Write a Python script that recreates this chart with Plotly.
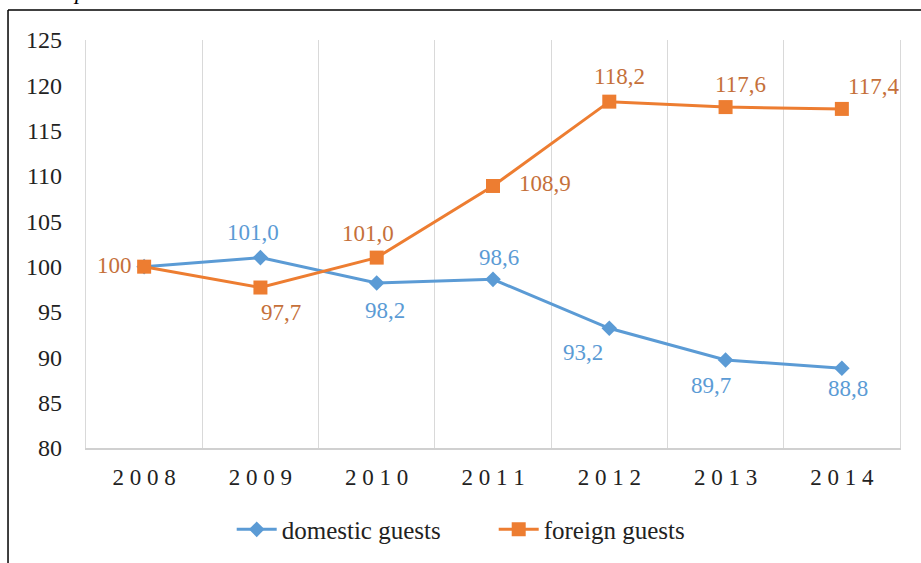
import plotly.graph_objects as go

years = [2008, 2009, 2010, 2011, 2012, 2013, 2014]
domestic = [100, 101.0, 98.2, 98.6, 93.2, 89.7, 88.8]
foreign = [100, 97.7, 101.0, 108.9, 118.2, 117.6, 117.4]
domestic_labels = [None, "101,0", "98,2", "98,6", "93,2", "89,7", "88,8"]
foreign_labels = ["100", "97,7", "101,0", "108,9", "118,2", "117,6", "117,4"]
y_ticks = [80, 85, 90, 95, 100, 105, 110, 115, 120, 125]

# label offsets (pixels) - styling only
dom_off = [(0, 0), (-7, -25), (8, 28), (6, -22), (-26, 24), (-15, 25), (6, 20)]
for_off = [(-30, -1), (21, 25), (-9, -24), (52, -2), (10, -25), (15, -23), (32, -22)]

BLUE = "#5B9BD5"
ORANGE = "#ED7D31"
FONT = "Liberation Serif"

xs = list(range(len(years)))

fig = go.Figure()
fig.add_trace(go.Scatter(
    x=xs, y=domestic, mode="lines+markers", name="domestic guests",
    line=dict(color=BLUE, width=3),
    marker=dict(symbol="diamond", size=12, color=BLUE),
))
fig.add_trace(go.Scatter(
    x=xs, y=foreign, mode="lines+markers", name="foreign guests",
    line=dict(color=ORANGE, width=3),
    marker=dict(symbol="square", size=14, color=ORANGE),
))

annotations = []
for i, (v, t) in enumerate(zip(domestic, domestic_labels)):
    if t is None:
        continue
    dx, dy = dom_off[i]
    annotations.append(dict(x=xs[i], y=v, text=t, showarrow=False,
                            xshift=dx, yshift=-dy,
                            font=dict(family=FONT, size=23, color=BLUE)))
for i, (v, t) in enumerate(zip(foreign, foreign_labels)):
    dx, dy = for_off[i]
    annotations.append(dict(x=xs[i], y=v, text=t, showarrow=False,
                            xshift=dx, yshift=-dy,
                            font=dict(family=FONT, size=23, color="#C5703A")))

# cropped caption glyph at the top
annotations.append(dict(xref="paper", yref="paper", x=-0.0074, y=1.083,
                        xanchor="center", yanchor="bottom", text="<i>p</i>",
                        showarrow=False,
                        font=dict(family=FONT, size=23, color="black")))

fig.update_layout(
    width=921, height=563,
    margin=dict(l=86, r=21, t=40, b=115, autoexpand=False),
    paper_bgcolor="white", plot_bgcolor="white",
    font=dict(family=FONT, size=23, color="#222222"),
    showlegend=True,
    legend=dict(orientation="h", x=0.179, xanchor="left", y=-0.2, yanchor="middle",
                font=dict(family=FONT, size=25, color="#222222"),
                entrywidth=207, entrywidthmode="pixels",
                itemwidth=40, tracegroupgap=0),
    annotations=annotations,
    shapes=[
        dict(type="line", xref="paper", yref="paper", x0=-0.0958, x1=1.1,
             y0=1.0735, y1=1.0735, line=dict(color="black", width=1.5)),
        dict(type="line", xref="paper", yref="paper", x0=-0.0958, x1=-0.0958,
             y0=1.0735, y1=-0.4, line=dict(color="black", width=1.5)),
    ],
)

fig.update_xaxes(
    range=[-0.5, len(years) - 0.5],
    tickmode="array", tickvals=xs,
    ticktext=[" ".join(str(y)) for y in years],
    tickfont=dict(family=FONT, size=23, color="#222222"),
    showgrid=False, zeroline=False, automargin=False,
    showline=True, linecolor="#D0D0D0", linewidth=1.5,
    ticks="", ticklabelstandoff=8,
    minor=dict(tickmode="array", tickvals=[x + 0.5 for x in xs[:-1]],
               showgrid=True, gridcolor="#D9D9D9", gridwidth=1.2),
)
fig.update_yaxes(
    range=[80, 125], tickmode="array", tickvals=y_ticks,
    tickfont=dict(family=FONT, size=24, color="#222222"),
    showgrid=False, zeroline=False, automargin=False,
    showline=True, mirror=True, linecolor="#D9D9D9", linewidth=1.2,
    ticks="", ticklabelstandoff=18,
)

fig.write_html("out.html", config={"displayModeBar": False},
               post_script="document.body.style.margin='0';document.body.style.overflow='hidden';")
